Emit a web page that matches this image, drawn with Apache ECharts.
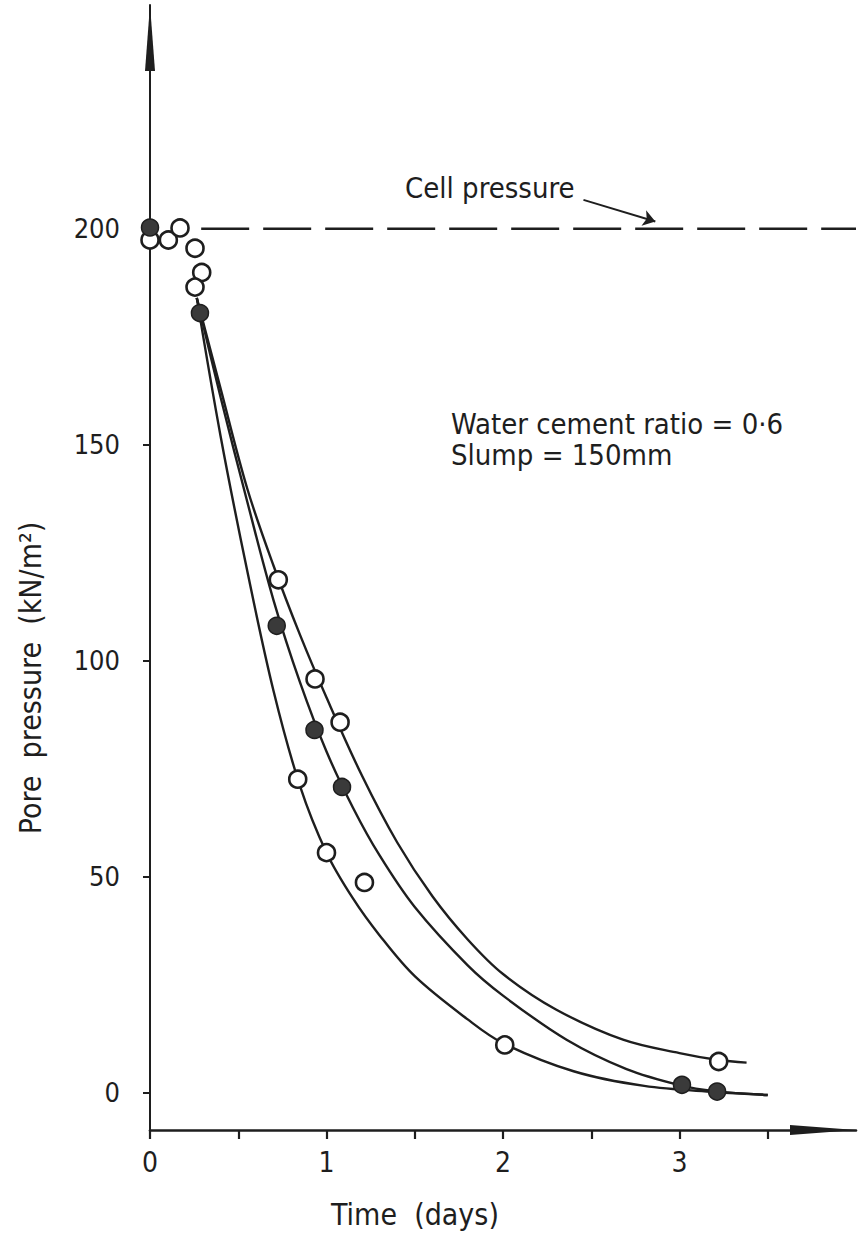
<!DOCTYPE html>
<html>
<head>
<meta charset="utf-8">
<script src="https://cdn.jsdelivr.net/npm/echarts@6/dist/echarts.min.js"></script>
<style>
  html, body { margin: 0; padding: 0; background: #ffffff; }
  #chart { width: 858px; height: 1241px; }
</style>
</head>
<body>
<div id="chart"></div>
<script>
// ---- Data ----
const xTickValues = [0, 0.5, 1, 1.5, 2, 2.5, 3, 3.5];
const xLabelValues = [0, 1, 2, 3];
const yLabelValues = [0, 50, 100, 150, 200];

const cellPressure = 200;

// drawn curves
const curveUpper = [[0.265,184],[0.4,163],[0.55,140],[0.7,122],[0.85,106],[1.0,91.5],[1.2,73.5],[1.4,58],[1.6,45.5],[1.8,35.5],[2.0,27.5],[2.3,19.3],[2.68,12.3],[3.0,9.2],[3.22,7.6],[3.38,7.0]];
const curveMiddle = [[0.265,184],[0.4,161],[0.55,137],[0.7,114],[0.85,95],[1.0,79],[1.15,66],[1.3,55],[1.5,43],[1.8,29.5],[2.0,22.5],[2.36,12.3],[2.7,5.5],[3.0,1.8],[3.2,0.4],[3.5,-0.5]];
const curveLower = [[0.265,184],[0.4,152],[0.55,121],[0.7,93],[0.85,71],[1.0,55.6],[1.15,45],[1.3,36.5],[1.5,27],[1.8,17],[2.0,11.5],[2.4,5],[2.8,1.6],[3.2,0.2],[3.5,-0.5]];

// measured points
const openPoints = [[0,197.4],[0.104,197.4],[0.17,200.2],[0.255,195.5],[0.293,189.9],[0.255,186.5],[0.727,118.75],[0.935,95.8],[1.077,85.8],[0.837,72.6],[1.0,55.6],[1.215,48.7],[2.01,11.1],[3.222,7.25]];
const filledPoints = [[0,200.3],[0.283,180.5],[0.718,108.1],[0.932,84.0],[1.088,70.8],[3.014,1.85],[3.213,0.3]];

// annotation arrow for "Cell pressure"
const cellArrow = [[2.456,206.7],[2.863,201.7]];

const FONT = "'Liberation Sans Narrow', 'DejaVu Sans Condensed', 'DejaVu Sans', sans-serif";
const INK = '#1e1e1e';

const chart = echarts.init(document.getElementById('chart'), null, { renderer: 'svg' });

const curveStyle = { color: INK, width: 2.4 };
const curveSeries = (data) => ({ type: 'line', data: data, smooth: 0.35, showSymbol: false, lineStyle: curveStyle, z: 3, silent: true });

const option = {
  backgroundColor: '#ffffff',
  animation: false,
  grid: { left: 150, right: 2, top: 5, bottom: 111 },
  xAxis: {
    type: 'value',
    min: 0, max: 4,
    axisLine: { show: true, onZero: false, lineStyle: { color: INK, width: 2.6 },
      symbol: ['none', 'triangle'], symbolSize: [10, 66], symbolOffset: [0, -33] },
    axisTick: { show: true, inside: false, length: 9, customValues: xTickValues, lineStyle: { color: INK, width: 2.2 } },
    axisLabel: { customValues: xLabelValues, color: INK, fontFamily: FONT, fontSize: 28, margin: 18 },
    splitLine: { show: false }
  },
  yAxis: {
    type: 'value',
    min: -8.6, max: 251.8,
    axisLine: { show: true, onZero: false, lineStyle: { color: INK, width: 2 },
      symbol: ['none', 'triangle'], symbolSize: [10, 66], symbolOffset: [0, -33] },
    axisTick: { show: true, inside: false, length: 7, customValues: yLabelValues, lineStyle: { color: INK, width: 2 } },
    axisLabel: { customValues: yLabelValues, color: INK, fontFamily: FONT, fontSize: 27, margin: 30 },
    splitLine: { show: false }
  },
  graphic: [
    { type: 'text', x: 405, y: 188, style: { text: 'Cell pressure', fill: INK, font: '29px ' + FONT, verticalAlign: 'middle' } },
    { type: 'text', x: 451, y: 424, style: { text: 'Water cement ratio = 0·6', fill: INK, font: '29px ' + FONT, verticalAlign: 'middle' } },
    { type: 'text', x: 451, y: 455, style: { text: 'Slump = 150mm', fill: INK, font: '29px ' + FONT, verticalAlign: 'middle' } },
    { type: 'text', x: 415, y: 1214, style: { text: 'Time  (days)', fill: INK, font: '30px ' + FONT, align: 'center', verticalAlign: 'middle' } },
    { type: 'text', x: 30, y: 678, rotation: Math.PI / 2, style: { text: 'Pore  pressure  (kN/m²)', fill: INK, font: '30px ' + FONT, align: 'center', verticalAlign: 'middle' } }
  ],
  series: [
    { type: 'line', name: 'Cell pressure', data: [[0.29, cellPressure], [4, cellPressure]], showSymbol: false, silent: true,
      lineStyle: { color: INK, width: 2.6, type: [48, 14] }, z: 2 },
    curveSeries(curveUpper),
    curveSeries(curveMiddle),
    curveSeries(curveLower),
    { type: 'lines', coordinateSystem: 'cartesian2d', data: [{ coords: cellArrow }], symbol: ['none', 'arrow'], symbolSize: 12,
      lineStyle: { color: INK, width: 2, opacity: 1 }, z: 4, silent: true },
    { type: 'scatter', data: openPoints, symbol: 'circle', symbolSize: 17,
      itemStyle: { color: '#ffffff', borderColor: INK, borderWidth: 2.6, opacity: 1 }, z: 5 },
    { type: 'scatter', data: filledPoints, symbol: 'circle', symbolSize: 17,
      itemStyle: { color: '#3a3a3a', borderColor: INK, borderWidth: 1.5, opacity: 1 }, z: 6 }
  ]
};

chart.setOption(option);
</script>
</body>
</html>
